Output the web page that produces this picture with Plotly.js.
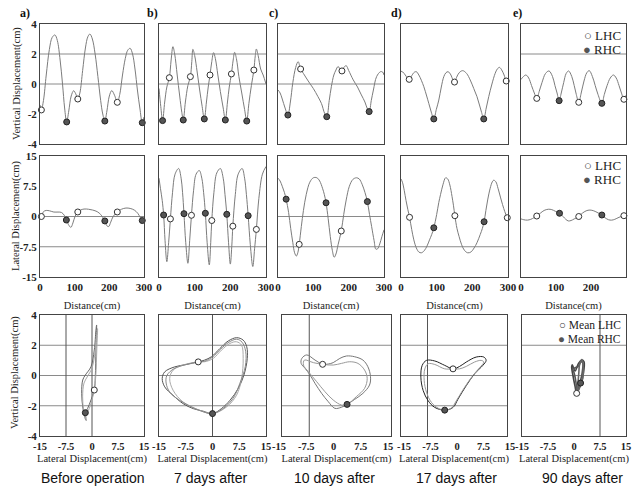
<!DOCTYPE html>
<html><head><meta charset="utf-8">
<script src="https://cdn.plot.ly/plotly-3.0.1.min.js"></script>
<style>html,body{margin:0;padding:0;background:#fff}#chart{width:634px;height:491px}</style>
</head><body><div id="chart"></div>
<script>
// ---------- DATA ----------
const captions = ['Before operation','7 days after','10 days after','17 days after','90 days after'];
const panelLabels = ['a)','b)','c)','d)','e)'];
const distTicks = [0,100,200,300];
const distTickText = ['0','100','200','300'];
const vertTicks = [-4,-2,0,2,4];
const vertTickText = ['-4','-2','0','2','4'];
const latTicks = [-15,-7.5,0,7.5,15];
const latTickText = ['-15','-7.5','0','7.5','15'];

// Row 1: vertical displacement vs distance
const vDistA = [0,4,10,18,27,35,43,50,58,65,71,77,83,90,97,103,109,115,123,131,138,144,151,159,167,175,181,187,193,200,207,215,223,230,238,246,253,260,267,274,281,288,295,300];
const vA = [-1.4,-1.73,-1.1,0.6,2.3,3.1,3.27,2.9,1.6,0.0,-1.6,-2.53,-1.8,-0.8,-0.45,-0.65,-1.0,-0.6,0.9,2.4,3.15,3.33,3.0,2.0,0.5,-1.1,-2.0,-2.47,-1.8,-0.8,-0.44,-0.75,-1.22,-0.7,0.6,1.7,2.25,2.38,2.0,1.0,-0.4,-1.6,-2.58,-2.2];
const vDistB = [0,5,10,16,22,29,34,39,44,51,58,64,68,74,81,88,92,95,100,107,114,121,127,133,138,143,148,153,158,165,172,180,186,192,197,203,208,212,217,224,232,240,246,252,259,266,270,273,278,285,292,300];
const vB = [-0.3,-1.5,-2.44,-1.2,-0.2,0.42,1.6,2.49,2.0,0.6,-0.8,-1.9,-2.4,-1.2,-0.1,0.49,1.5,2.31,1.9,0.8,-0.4,-1.5,-2.33,-1.2,-0.2,0.6,1.5,2.09,1.7,0.6,-0.5,-1.6,-2.4,-1.2,-0.2,0.67,1.6,2.11,1.7,0.5,-0.6,-1.7,-2.47,-1.3,-0.1,0.93,1.9,2.33,1.9,1.0,0.6,0.0];
const vDistC = [0,6,12,20,28,35,42,50,57,64,72,80,90,100,113,123,132,138,145,151,158,164,170,181,186,193,200,213,225,236,246,252,258,264,270,279,290,296,300];
const vC = [-0.4,-0.6,-1.0,-1.6,-2.07,-1.2,0.1,1.1,1.49,1.0,0.7,0.4,0.04,-0.3,-0.84,-1.3,-1.96,-2.18,-1.1,-0.18,0.6,0.93,1.16,0.87,1.1,1.22,0.9,0.27,-0.2,-0.73,-1.2,-1.6,-1.84,-1.1,-0.4,0.49,0.82,0.8,0.6];
const vDistD = [0,5,12,18,23,30,37,43,50,57,64,72,78,84,92,99,106,113,120,126,132,140,145,150,156,163,173,184,194,204,213,220,226,232,239,246,255,264,270,276,282,289,295,300];
const vD = [0.85,0.8,0.6,0.4,0.31,0.55,0.78,0.82,0.6,0.25,-0.18,-0.8,-1.3,-1.8,-2.33,-1.7,-1.07,-0.2,0.49,0.75,0.82,0.6,0.3,0.13,0.45,0.75,0.89,0.7,0.27,-0.3,-0.84,-1.4,-1.9,-2.33,-1.6,-0.84,0.0,0.71,1.0,1.11,0.95,0.6,0.2,0.15];
const vDistE = [0,5,14,22,30,38,45,52,60,70,80,90,97,103,109,115,122,129,136,145,152,158,165,172,180,188,195,204,212,220,231,238,246,255,264,272,280,287,294,300];
const vE = [0.3,0.45,0.6,0.4,-0.1,-0.6,-0.96,-0.5,0.1,0.7,0.87,0.5,-0.1,-0.6,-1.11,-0.6,0.1,0.7,0.87,0.5,-0.1,-0.7,-1.22,-0.6,0.2,0.75,0.89,0.5,-0.1,-0.7,-1.29,-0.7,-0.1,0.4,0.6,0.4,-0.1,-0.6,-1.02,-0.75];

const vLhcDistA = [4,109,223],          vLhcA = [-1.73,-1.0,-1.22];
const vRhcDistA = [77,187,295],         vRhcA = [-2.53,-2.47,-2.58];
const vLhcDistB = [29,88,143,203,266],  vLhcB = [0.42,0.49,0.6,0.67,0.93];
const vRhcDistB = [10,68,127,186,246],  vRhcB = [-2.44,-2.4,-2.33,-2.4,-2.47];
const vLhcDistC = [64,181],             vLhcC = [1.0,0.87];
const vRhcDistC = [28,138,258],         vRhcC = [-2.07,-2.18,-1.84];
const vLhcDistD = [23,150,295],         vLhcD = [0.31,0.13,0.2];
const vRhcDistD = [92,232],             vRhcD = [-2.33,-2.33];
const vLhcDistE = [45,165,294],         vLhcE = [-0.96,-1.22,-1.02];
const vRhcDistE = [109,231],            vRhcE = [-1.11,-1.29];

// Row 2: lateral displacement vs distance
const lDistA = [0,4,10,18,28,40,52,62,70,76,82,89,95,101,109,117,127,140,152,165,175,181,187,193,198,204,211,223,235,248,260,272,282,289,295,300];
const lA = [0.2,0.0,1.2,1.5,1.4,1.1,1.1,1.0,0.3,-0.87,-2.0,-2.7,-1.6,0.0,1.12,1.6,1.85,1.8,1.6,1.2,0.5,-0.2,-1.1,-2.3,-2.5,-1.4,0.0,1.12,1.8,2.1,2.0,1.6,0.8,-0.2,-1.0,-1.0];
const lDistB = [0,4,9,13,17,22,27,32,38,45,55,62,66,70,75,81,86,91,97,104,113,120,125,130,135,141,145,148,154,162,172,180,185,190,195,200,204,207,214,222,233,240,245,250,256,263,268,273,280,290,300];
const lB = [9.5,7.0,4.0,0.37,-6.0,-11.2,-6.5,-0.6,6.0,10.5,11.9,9.5,6.0,0.7,-6.5,-11.6,-6.0,0.3,6.5,10.5,11.4,9.5,6.0,0.8,-6.5,-12.0,-6.5,-1.0,6.0,10.8,11.9,9.5,5.5,0.54,-6.5,-11.8,-7.5,-2.4,5.5,10.5,11.9,9.5,5.5,0.2,-7.0,-12.4,-8.0,-3.2,4.5,10.5,12.4];
const lDistC = [0,6,12,18,23,30,36,42,47,52,56,60,66,72,80,90,100,110,118,126,131,136,142,148,154,159,164,170,179,186,193,202,212,222,230,238,246,253,259,265,272,277,282,288,294,300];
const lC = [9.5,8.8,7.5,6.0,4.3,1.0,-3.0,-6.5,-9.0,-9.8,-9.0,-6.9,-2.5,1.5,5.5,8.5,9.6,9.6,8.8,7.0,5.5,3.4,-0.5,-5.0,-8.5,-10.1,-9.3,-7.0,-3.6,0.5,4.1,7.5,9.2,9.6,9.3,8.0,6.0,3.7,0.5,-2.5,-6.0,-8.1,-8.0,-6.8,-5.0,-3.3];
const lDistD = [0,4,9,14,19,24,30,36,43,50,57,65,73,80,86,92,100,106,111,118,125,131,137,143,147,151,157,163,170,178,187,196,205,213,222,228,233,238,243,250,256,260,266,272,281,288,294,298];
const lD = [9.3,8.5,6.5,4.0,1.8,-0.2,-3.2,-5.8,-7.8,-8.8,-9.0,-8.5,-7.3,-5.8,-4.5,-2.8,0.5,3.5,5.5,8.0,9.6,9.3,7.8,5.0,2.8,0.2,-3.0,-5.0,-7.0,-8.4,-9.0,-8.8,-7.8,-6.5,-4.5,-3.0,-1.3,1.5,4.1,7.0,8.6,9.0,8.6,7.0,4.1,2.0,0.5,-0.3];
const lDistE = [0,8,18,28,37,45,55,66,78,88,98,110,120,128,135,143,152,165,175,186,197,208,220,231,240,250,259,268,280,294,300];
const lE = [-0.6,-0.8,-0.9,-0.7,-0.3,0.12,0.8,1.5,1.8,1.7,1.3,0.8,0.0,-0.7,-1.1,-1.0,-0.6,0.0,0.8,1.4,1.6,1.4,0.9,0.37,-0.3,-0.8,-0.9,-0.7,-0.2,0.2,0.3];

const lLhcDistA = [4,109,223],          lLhcA = [0.0,1.12,1.12];
const lRhcDistA = [76,187,295],         lRhcA = [-0.87,-1.1,-1.0];
const lLhcDistB = [32,91,148,207,273],  lLhcB = [-0.6,0.3,-1.0,-2.4,-3.2];
const lRhcDistB = [13,70,130,190,250],  lRhcB = [0.37,0.7,0.8,0.54,0.2];
const lLhcDistC = [60,179],             lLhcC = [-6.9,-3.6];
const lRhcDistC = [23,136,253],         lRhcC = [4.3,3.4,3.7];
const lLhcDistD = [24,151,298],         lLhcD = [-0.2,0.2,-0.3];
const lRhcDistD = [92,233],             lRhcD = [-2.8,-1.3];
const lLhcDistE = [45,165,294],         lLhcE = [0.12,0.0,0.2];
const lRhcDistE = [110,231],            lRhcE = [0.8,0.37];

// Row 3: vertical vs lateral displacement (stride loops)
const loopA1Lat  = [1.33,1.14,0.95,0.66,-0.29,-1.25,-1.92,-1.8,-2.6,-2.97,-2.68,-1.92,-0.29,0.66,1.14,1.33];
const loopA1Vert = [3.34,1.69,-0.08,-0.96,-1.62,-2.17,-2.46,-2.95,-2.2,-1.18,-0.3,0.03,0.58,1.69,3.0,3.34];
const loopA2Lat  = [1.6,1.4,1.1,0.7,-0.1,-1.0,-1.7,-1.6,-2.4,-2.7,-2.3,-1.4,0.0,0.9,1.4,1.6];
const loopA2Vert = [3.1,1.8,0.0,-0.9,-1.7,-2.3,-2.6,-3.0,-2.3,-1.4,-0.5,-0.1,0.5,1.6,2.8,3.1];

const loopB1Lat  = [-4.0,-7.3,-10.6,-13.4,-14.1,-13.4,-11.1,-8.25,-5.4,-2.6,0.0,2.5,4.9,7.2,8.8,9.75,9.6,8.6,6.75,4.4,2.1,-0.3,-2.2,-4.0];
const loopB1Vert = [0.9,0.73,0.57,0.24,-0.2,-0.75,-1.3,-1.86,-2.19,-2.36,-2.52,-2.19,-1.64,-0.86,0.02,1.13,1.9,2.34,2.5,2.28,1.79,1.24,1.02,0.9];
const loopB2Lat  = [-4.0,-8.25,-11.06,-12.0,-11.06,-8.25,-3.56,0.0,3.94,6.75,8.16,8.6,8.16,6.75,4.88,2.53,0.19,-2.16,-4.0];
const loopB2Vert = [0.9,0.69,0.35,-0.2,-0.97,-1.75,-2.3,-2.52,-2.08,-1.3,-0.2,1.13,2.0,2.23,2.12,1.68,1.13,0.91,0.9];
const loopB3Lat  = [-4.0,-7.8,-10.8,-12.8,-13.0,-12.0,-9.5,-6.5,-3.2,0.0,3.2,5.8,7.7,9.2,9.3,8.3,6.8,4.6,2.3,-0.1,-2.2,-4.0];
const loopB3Vert = [0.9,0.7,0.45,0.0,-0.5,-1.1,-1.6,-2.0,-2.35,-2.52,-2.15,-1.5,-0.5,0.6,1.6,2.2,2.4,2.2,1.75,1.2,0.95,0.9];

const loopC1Lat  = [-3.82,-5.91,-8.18,-9.55,-9.73,-8.64,-7.27,-5.91,-4.09,-2.27,-0.46,1.36,2.91,5.0,7.27,9.09,9.36,8.64,7.27,5.0,2.73,0.91,-0.91,-2.27,-3.82];
const loopC1Vert = [0.74,1.02,1.36,1.13,0.8,0.47,0.03,-0.52,-1.18,-1.73,-2.17,-2.1,-1.91,-1.58,-1.18,-0.63,-0.08,0.58,1.02,1.24,1.29,1.13,0.85,0.76,0.74];
const loopC2Lat  = [-3.82,-6.36,-8.82,-9.09,-7.73,-5.45,-3.18,-0.91,1.36,2.91,5.45,7.73,8.45,7.73,5.91,3.64,1.36,-0.91,-3.82];
const loopC2Vert = [0.74,0.85,1.02,0.69,0.25,-0.41,-1.07,-1.62,-1.95,-1.91,-1.4,-0.85,-0.19,0.36,0.8,0.91,0.8,0.69,0.74];

const loopD1Lat  = [-0.28,-2.63,-5.44,-7.78,-9.0,-9.38,-8.72,-7.31,-5.44,-2.63,-0.28,1.13,3.47,5.81,8.16,9.09,8.44,6.28,3.47,1.59,-0.28];
const loopD1Vert = [0.44,0.67,0.96,1.0,0.67,-0.11,-1.0,-1.67,-2.11,-2.29,-2.11,-1.56,-0.67,0.11,0.67,1.0,1.22,1.22,0.89,0.6,0.44];
const loopD2Lat  = [-0.28,-2.63,-5.44,-7.31,-8.25,-8.44,-7.78,-6.38,-4.5,-2.63,-0.75,0.66,3.0,5.34,7.22,8.44,7.69,5.81,3.47,1.59,-0.28];
const loopD2Vert = [0.44,0.44,0.73,0.78,0.44,-0.33,-1.11,-1.78,-2.16,-2.29,-2.16,-1.67,-0.78,0.0,0.51,0.89,1.0,0.89,0.6,0.44,0.44];

const loopE1Lat  = [0.77,0.29,-0.3,-0.67,-0.5,0.3,1.3,2.2,2.9,2.6,2.2,1.5,0.77];
const loopE1Vert = [-1.18,-0.7,0.0,0.58,0.7,0.3,0.8,1.02,0.9,0.0,-0.4,-0.8,-1.18];
const loopE2Lat  = [0.77,0.6,0.0,-0.4,0.2,1.2,2.0,2.5,2.3,1.8,1.2,0.77];
const loopE2Vert = [-1.18,-0.5,0.2,0.45,0.5,0.6,0.9,0.85,0.1,-0.4,-0.9,-1.18];
const loopE3Lat  = [0.77,1.1,1.4,1.6,2.3,2.7,2.5,1.8,0.77];
const loopE3Vert = [-1.18,-0.6,0.2,0.7,1.05,0.5,-0.2,-0.7,-1.18];

const meanLhcLat  = [0.66,-4.0,-3.82,-0.28,0.77];
const meanLhcVert = [-0.96,0.9,0.74,0.44,-1.18];
const meanRhcLat  = [-1.92,0.0,2.91,-2.63,1.9];
const meanRhcVert = [-2.46,-2.52,-1.91,-2.29,-0.5];

// ---------- GROUPING (built from the arrays above) ----------
const vCurves = [[vDistA,vA],[vDistB,vB],[vDistC,vC],[vDistD,vD],[vDistE,vE]];
const vLhc = [[vLhcDistA,vLhcA],[vLhcDistB,vLhcB],[vLhcDistC,vLhcC],[vLhcDistD,vLhcD],[vLhcDistE,vLhcE]];
const vRhc = [[vRhcDistA,vRhcA],[vRhcDistB,vRhcB],[vRhcDistC,vRhcC],[vRhcDistD,vRhcD],[vRhcDistE,vRhcE]];
const lCurves = [[lDistA,lA],[lDistB,lB],[lDistC,lC],[lDistD,lD],[lDistE,lE]];
const lLhc = [[lLhcDistA,lLhcA],[lLhcDistB,lLhcB],[lLhcDistC,lLhcC],[lLhcDistD,lLhcD],[lLhcDistE,lLhcE]];
const lRhc = [[lRhcDistA,lRhcA],[lRhcDistB,lRhcB],[lRhcDistC,lRhcC],[lRhcDistD,lRhcD],[lRhcDistE,lRhcE]];
const loops = [
  [[loopA1Lat,loopA1Vert],[loopA2Lat,loopA2Vert]],
  [[loopB1Lat,loopB1Vert],[loopB2Lat,loopB2Vert],[loopB3Lat,loopB3Vert]],
  [[loopC1Lat,loopC1Vert],[loopC2Lat,loopC2Vert]],
  [[loopD1Lat,loopD1Vert],[loopD2Lat,loopD2Vert]],
  [[loopE1Lat,loopE1Vert],[loopE2Lat,loopE2Vert],[loopE3Lat,loopE3Vert]]
];

// ---------- LAYOUT / STYLE ----------
const W = 634, H = 491;
const colX  = [[40,144],[159,266],[278,384],[401,508],[521,626]];
const colX3 = [[40,144],[159,266],[282,391],[401,507],[522,626]];
const rowY  = [[24,144],[156,277],[315,436]];
const loopColors = [['#666','#aaa'],['#555','#aaa','#888'],['#777','#999'],['#222','#999'],['#444','#555','#666']];
const gridH = [[[2,0],[2,0],[2,0],[],[2]],
               [[0,-7.5],[-7.5],[0,-7.5],[-7.5],[]],
               [[2,0,-2],[2,0,-2],[2,0,-2],[2,0,-2],[2,0]]];
const gridV3 = [[-7.5,0],[0],[-7.5],[-7.5],[7.5]];
const row3LabelShift = [0,0,-3,3,0];
const yTitles = [['Vertical Displacement(cm)',17,84],['Lateral Displacement(cm)',16,216],['Vertical Displacement(cm)',15,373]];

const SERIF = 'Liberation Serif, Times New Roman, serif';
const SANS = 'Liberation Sans, Arial, sans-serif';
const curveLine = {color:'#7c7c7c', width:1, shape:'spline', smoothing:1};
const lhcMarker = {symbol:'circle', size:6, color:'#fff', line:{color:'#333', width:1}};
const rhcMarker = {symbol:'circle', size:6, color:'#555', line:{color:'#222', width:1}};

function axNames(r,c){ const k=r*5+c+1; return k===1?['x','y','xaxis','yaxis']:['x'+k,'y'+k,'xaxis'+k,'yaxis'+k]; }

const traces = [];
const layout = {
  width:W, height:H, margin:{l:0,r:0,t:0,b:0},
  paper_bgcolor:'#fff', plot_bgcolor:'#fff', showlegend:false,
  shapes:[], annotations:[]
};

for (let r=0;r<3;r++){
  for (let c=0;c<5;c++){
    const [xn,yn,xa,ya] = axNames(r,c);
    const xs = r===2 ? colX3[c] : colX[c];
    const ys = rowY[r];
    const tickfont = {family:SERIF, size:11, color:'#222', weight:'bold'};
    const titlefont = {family:SERIF, size:10.5, color:'#222'};
    const xaxis = {domain:[xs[0]/W, xs[1]/W], anchor:yn, showline:true, mirror:true, linecolor:'#444', linewidth:1,
      showgrid:false, zeroline:false, ticks:'', tickfont, fixedrange:true};
    const yaxis = {domain:[1-ys[1]/H, 1-ys[0]/H], anchor:xn, showline:true, mirror:true, linecolor:'#444', linewidth:1,
      showgrid:false, zeroline:false, ticks:'', tickfont, fixedrange:true, showticklabels:c===0};
    if (r<2){
      xaxis.range=[0,300]; xaxis.tickvals=distTicks; xaxis.ticktext=distTickText; xaxis.showticklabels = (r===1);
      if (r===1) xaxis.title={text:'Distance(cm)', font:titlefont, standoff:9};
    } else {
      xaxis.range=[-15,15]; xaxis.tickvals=latTicks; xaxis.ticktext=latTickText;
      xaxis.tickfont = Object.assign({}, tickfont, {size:10.5});
      xaxis.ticklabelshift = row3LabelShift[c];
      xaxis.title={text:'Lateral Displacement(cm)', font:titlefont, standoff:4};
    }
    if (r===1){ yaxis.range=[-15,15]; yaxis.tickvals=latTicks; yaxis.ticktext=latTickText; }
    else { yaxis.range=[-4,4]; yaxis.tickvals=vertTicks; yaxis.ticktext=vertTickText; }
    layout[xa]=xaxis; layout[ya]=yaxis;

    // grid lines
    gridH[r][c].forEach(v=>layout.shapes.push({type:'line', xref:xn+' domain', yref:yn, x0:0, x1:1, y0:v, y1:v,
      line:{color:'#8a8a8a', width:1}, layer:'below'}));
    if (r===2) gridV3[c].forEach(v=>layout.shapes.push({type:'line', xref:xn, yref:yn+' domain', x0:v, x1:v, y0:0, y1:1,
      line:{color:'#555', width:1}, layer:'below'}));

    if (r===0 || r===1){
      const cur = r===0 ? vCurves[c] : lCurves[c];
      const lh = r===0 ? vLhc[c] : lLhc[c];
      const rh = r===0 ? vRhc[c] : lRhc[c];
      traces.push({type:'scatter', mode:'lines', x:cur[0], y:cur[1], xaxis:xn, yaxis:yn, line:curveLine, hoverinfo:'skip'});
      traces.push({type:'scatter', mode:'markers', name:'RHC', x:rh[0], y:rh[1], xaxis:xn, yaxis:yn, marker:rhcMarker, cliponaxis:false});
      traces.push({type:'scatter', mode:'markers', name:'LHC', x:lh[0], y:lh[1], xaxis:xn, yaxis:yn, marker:lhcMarker, cliponaxis:false});
    } else {
      loops[c].forEach((lp,i)=>traces.push({type:'scatter', mode:'lines', x:lp[0], y:lp[1], xaxis:xn, yaxis:yn,
        line:{color:loopColors[c][i], width:(c===4?1.6:1), shape:'spline', smoothing:1}, hoverinfo:'skip'}));
      traces.push({type:'scatter', mode:'markers', name:'Mean RHC', x:[meanRhcLat[c]], y:[meanRhcVert[c]], xaxis:xn, yaxis:yn, marker:rhcMarker});
      traces.push({type:'scatter', mode:'markers', name:'Mean LHC', x:[meanLhcLat[c]], y:[meanLhcVert[c]], xaxis:xn, yaxis:yn, marker:lhcMarker});
    }
  }
}

// y-axis titles (rotated text beside the first column)
yTitles.forEach(([t,x,y])=>layout.annotations.push({text:t, xref:'paper', yref:'paper', x:x/W, y:1-y/H, textangle:-90,
  showarrow:false, xanchor:'center', yanchor:'middle', font:{family:SERIF, size:10.5, color:'#222'}}));
// panel labels, captions, legends as text
const labelX = [25,152,273,396,517];
panelLabels.forEach((t,i)=>layout.annotations.push({text:t, xref:'paper', yref:'paper', x:labelX[i]/W, y:1-13/H,
  showarrow:false, xanchor:'center', yanchor:'middle', font:{family:SERIF, size:12, color:'#111', weight:'bold'}}));
const capX = [93,210,334,456,582];
captions.forEach((t,i)=>layout.annotations.push({text:t, xref:'paper', yref:'paper', x:capX[i]/W, y:1-478/H,
  showarrow:false, xanchor:'center', yanchor:'middle', font:{family:SANS, size:14, color:'#111'}}));
const legendRows = [[['LHC',35],['RHC',49]],[['LHC',165],['RHC',179]],[['Mean LHC',325],['Mean RHC',339]]];
legendRows.forEach((rows,ri)=>rows.forEach(([t,y],j)=>{
  const sym = j===0 ? '<span style="color:#333">○</span>' : '<span style="color:#555">●</span>';
  layout.annotations.push({text:sym+' '+t, xref:'paper', yref:'paper', x:623/W, y:1-y/H, showarrow:false,
    xanchor:'right', yanchor:'middle', font:{family:SERIF, size: ri===2?11.5:13, color:'#222'}});
}));

Plotly.newPlot('chart', traces, layout, {displayModeBar:false, staticPlot:true});
</script></body></html>
